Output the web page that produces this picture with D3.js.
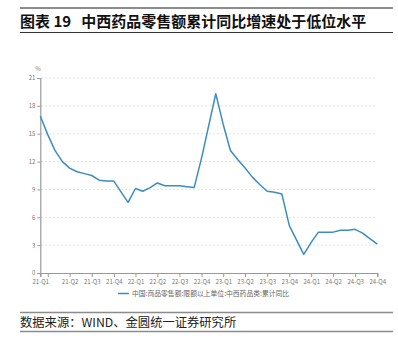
<!DOCTYPE html>
<html>
<head>
<meta charset="utf-8">
<script src="https://cdn.jsdelivr.net/npm/d3@7"></script>
<style>
  html, body { margin: 0; padding: 0; background: #fff; }
  svg { display: block; }
</style>
</head>
<body>
<svg id="chart" width="398" height="354"></svg>
<script>
// ---- data ----
const title = "图表 19   中西药品零售额累计同比增速处于低位水平";
const source = "数据来源：WIND、金圆统一证券研究所";
const legendLabel = "中国:商品零售额:限额以上单位:中西药品类:累计同比";
const dates = [
  "2021-02-28","2021-03-31","2021-04-30","2021-05-31","2021-06-30","2021-07-31","2021-08-31","2021-09-30","2021-10-31","2021-11-30","2021-12-31",
  "2022-02-28","2022-03-31","2022-04-30","2022-05-31","2022-06-30","2022-07-31","2022-08-31","2022-09-30","2022-10-31","2022-11-30","2022-12-31",
  "2023-02-28","2023-03-31","2023-04-30","2023-05-31","2023-06-30","2023-07-31","2023-08-31","2023-09-30","2023-10-31","2023-11-30","2023-12-31",
  "2024-02-29","2024-03-31","2024-04-30","2024-05-31","2024-06-30","2024-07-31","2024-08-31","2024-09-30","2024-10-31","2024-11-30","2024-12-31"
];
const values = [
  16.9, 14.9, 13.2, 12.0, 11.3, 10.9, 10.7, 10.5, 10.0, 9.9, 9.9,
  7.6, 9.1, 8.8, 9.2, 9.7, 9.4, 9.4, 9.4, 9.3, 9.2, 12.4,
  19.3, 16.0, 13.2, 12.2, 11.3, 10.3, 9.5, 8.8, 8.7, 8.5, 5.1,
  2.0, 3.3, 4.4, 4.4, 4.4, 4.6, 4.6, 4.7, 4.3, 3.7, 3.1
];
const tickDates = [
  "2021-02-28","2021-03-31","2021-06-30","2021-09-30","2021-12-31",
  "2022-03-31","2022-06-30","2022-09-30","2022-12-31",
  "2023-03-31","2023-06-30","2023-09-30","2023-12-31",
  "2024-03-31","2024-06-30","2024-09-30","2024-12-31"
];
const tickLabels = [
  "21-Q1","","21-Q2","21-Q3","21-Q4",
  "22-Q1","22-Q2","22-Q3","22-Q4",
  "23-Q1","23-Q2","23-Q3","23-Q4",
  "24-Q1","24-Q2","24-Q3","24-Q4"
];
const yTicks = [0, 3, 6, 9, 12, 15, 18, 21];

// ---- drawing ----
const parse = d3.utcParse("%Y-%m-%d");
const svg = d3.select("#chart");
const font = "'Noto Sans CJK SC', 'Noto Sans', sans-serif";

// header
svg.append("line").attr("x1", 20).attr("x2", 393).attr("y1", 8).attr("y2", 8)
  .attr("stroke", "#8c8c8c").attr("stroke-width", 2);
svg.append("text").attr("x", 20).attr("y", 26.5)
  .attr("font-family", font).attr("font-weight", "bold").attr("font-size", 15)
  .attr("fill", "#111").attr("xml:space", "preserve").style("white-space", "pre")
  .text(title);
svg.append("line").attr("x1", 20).attr("x2", 393).attr("y1", 32.5).attr("y2", 32.5)
  .attr("stroke", "#333").attr("stroke-width", 1);

// scales
const x = d3.scaleUtc()
  .domain([parse(tickDates[0]), parse(tickDates[tickDates.length - 1])])
  .range([40.3, 377.3]);
const y = d3.scaleLinear().domain([0, 21]).range([273, 78]);

// grid
svg.append("g").selectAll("line").data(yTicks.filter(d => d > 0)).join("line")
  .attr("x1", 41).attr("x2", 377.3)
  .attr("y1", d => y(d)).attr("y2", d => y(d))
  .attr("stroke", "#dcdcdc").attr("stroke-width", 0.8).attr("stroke-dasharray", "2,2");

// y axis
const yAxis = svg.append("g").attr("transform", "translate(40.3,0)")
  .call(d3.axisLeft(y).tickValues(yTicks).tickSize(3).tickPadding(2).tickFormat(d3.format("d")));
yAxis.select(".domain").attr("stroke", "#999").attr("stroke-width", 1.2);
yAxis.selectAll(".tick line").attr("stroke", "#999");
yAxis.selectAll(".tick text").attr("font-family", font).attr("font-size", 6).attr("fill", "#777");

svg.append("text").attr("x", 38).attr("y", 71)
  .attr("font-family", font).attr("font-size", 6).attr("fill", "#777")
  .attr("text-anchor", "middle").text("%");

// x axis
const xAxis = svg.append("g").attr("transform", "translate(0,273)")
  .call(d3.axisBottom(x).tickValues(tickDates.map(parse)).tickSize(4).tickPadding(3)
    .tickFormat((d, i) => tickLabels[i]));
xAxis.select(".domain").attr("stroke", "#999").attr("stroke-width", 1.2);
xAxis.selectAll(".tick line").attr("stroke", "#999");
xAxis.selectAll(".tick text").attr("font-family", font).attr("font-size", 6).attr("fill", "#777");

// line
const data = dates.map((d, i) => ({ date: parse(d), value: values[i] }));
svg.append("path").datum(data)
  .attr("fill", "none").attr("stroke", "#3b8dc2").attr("stroke-width", 1.5)
  .attr("stroke-linejoin", "round")
  .attr("d", d3.line().x(d => x(d.date)).y(d => y(d.value)));

// legend
svg.append("line").attr("x1", 118).attr("x2", 129).attr("y1", 293.5).attr("y2", 293.5)
  .attr("stroke", "#3b8dc2").attr("stroke-width", 1.5);
svg.append("text").attr("x", 132).attr("y", 296)
  .attr("font-family", font).attr("font-size", 6.8).attr("fill", "#666")
  .text(legendLabel);

// footer
svg.append("line").attr("x1", 20).attr("x2", 393).attr("y1", 312.5).attr("y2", 312.5)
  .attr("stroke", "#8c8c8c").attr("stroke-width", 1.5);
svg.append("text").attr("x", 20).attr("y", 327)
  .attr("font-family", font).attr("font-size", 12.3).attr("fill", "#222")
  .text(source);
svg.append("line").attr("x1", 20).attr("x2", 393).attr("y1", 331.5).attr("y2", 331.5)
  .attr("stroke", "#8c8c8c").attr("stroke-width", 1.5);
</script>
</body>
</html>
